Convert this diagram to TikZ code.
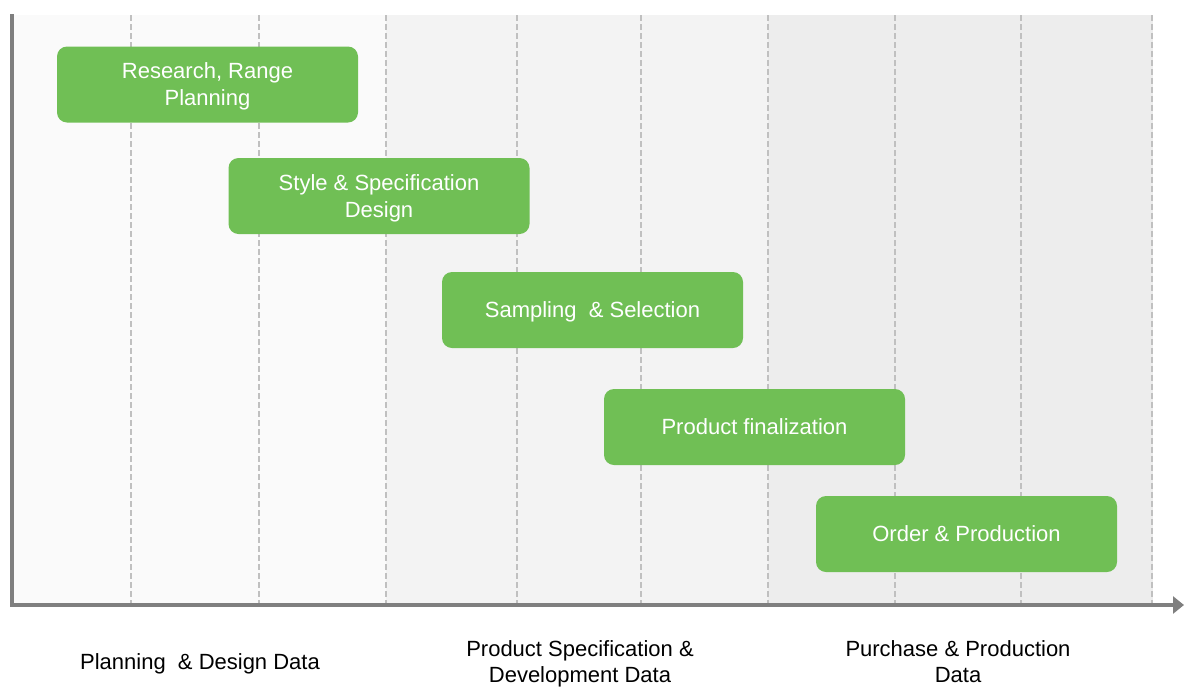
\documentclass[tikz,border=0pt]{standalone}
\usepackage{fontspec}
\setmainfont{Liberation Sans}
\usetikzlibrary{arrows.meta}
\definecolor{stagegreen}{HTML}{70BF55}
\definecolor{axisgray}{HTML}{7F7F7F}
\definecolor{gridgray}{HTML}{C0C0C0}
\definecolor{bandA}{HTML}{FAFAFA}
\definecolor{bandB}{HTML}{F3F3F3}
\definecolor{bandC}{HTML}{EDEDED}
\begin{document}
\begin{tikzpicture}[x=1pt, y=-1pt,
	stagebox/.style={fill=stagegreen, rounded corners=10pt, minimum width=301pt, minimum height=76pt,
		text=white, align=center, text depth=0pt, font=\fontsize{22}{27}\selectfont},
	datalabel/.style={align=center, text depth=0pt, font=\fontsize{22}{26}\selectfont}]

	\useasboundingbox (0,0) rectangle (1184,686);

	%% The background bands
	\fill[bandA] (12,15) rectangle (386,605);
	\fill[bandB] (386,15) rectangle (768,605);
	\fill[bandC] (768,15) rectangle (1153,605);

	%% The dashed grid lines
	\foreach \gx in {131,259,386,517,641,768,895,1021,1152}
		\draw[gridgray, line width=1.5pt, dash pattern=on 6pt off 3pt] (\gx,15) -- (\gx,605);

	%% The axes
	\coordinate (top) at (12,14);
	\coordinate (origin) at (12,605);
	\coordinate (end) at (1184,605);
	\draw[axisgray, line width=4pt, -{Triangle[length=11pt,width=17pt]}] (top) -- (origin) -- (end);

	%% The stages
	\begin{scope}[every node/.style={stagebox}]
		\node at ( 207.5, 84.5) (b-1) {Research, Range\\Planning};
		\node at ( 379.0,196.0) (b-2) {Style \& Specification\\Design};
		\node at ( 592.5,310.0) (b-3) {Sampling\ \ \& Selection};
		\node at ( 754.5,427.0) (b-4) {Product finalization};
		\node at ( 966.5,534.0) (b-5) {Order \& Production};
	\end{scope}

	%% The data labels under the axis
	\begin{scope}[every node/.style={datalabel}]
		\node at (200,662) (l-1) {Planning\ \ \& Design Data};
		\node at (580,662) (l-2) {Product Specification \&\\Development Data};
		\node at (958,662) (l-3) {Purchase \& Production\\Data};
	\end{scope}

\end{tikzpicture}
\end{document}
